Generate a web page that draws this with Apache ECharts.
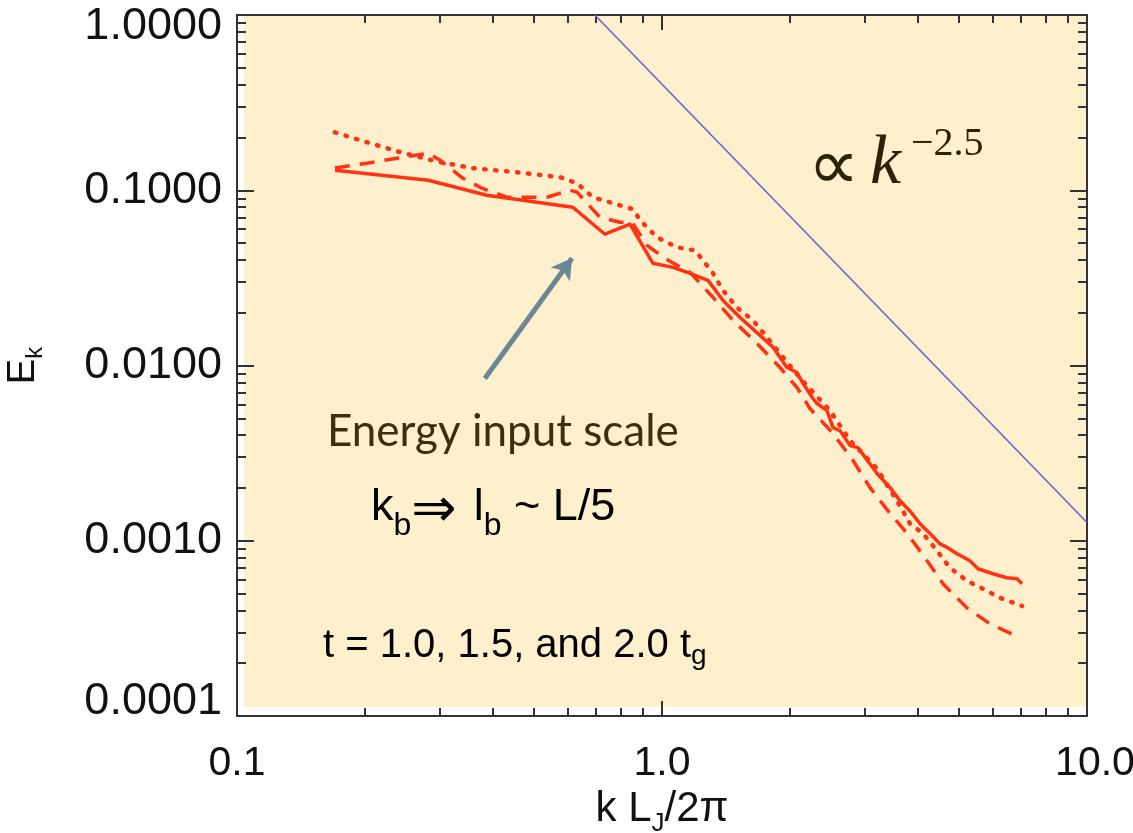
<!DOCTYPE html>
<html>
<head>
<meta charset="utf-8">
<script src="https://cdn.jsdelivr.net/npm/echarts@6/dist/echarts.min.js"></script>
<style>
  html, body { margin: 0; background: #fff; }
  #main { width: 1133px; height: 833px; }
</style>
</head>
<body>
<div id="main"></div>
<script>
// values: k L_J/2pi and E_k
const solidK = [0.170, 0.282, 0.387, 0.617, 0.734, 0.841, 0.952, 1.061, 1.164, 1.283, 1.392, 1.526, 1.673, 1.825, 1.968, 2.078, 2.147, 2.266, 2.316, 2.445, 2.526, 2.623, 2.770, 2.892, 3.206, 3.440, 3.631, 3.833, 4.047, 4.272, 4.510, 4.710, 4.945, 5.304, 5.539, 6.008, 6.482, 6.843, 7.031];
const solidE = [0.130, 0.114, 0.0936, 0.080, 0.0561, 0.064, 0.0383, 0.0363, 0.0336, 0.0306, 0.0235, 0.0188, 0.0154, 0.0127, 0.00974, 0.00912, 0.00789, 0.00648, 0.00607, 0.00553, 0.00442, 0.00425, 0.00349, 0.0034, 0.00242, 0.00201, 0.00169, 0.00148, 0.00125, 0.0011, 0.00096, 0.00091, 0.000843, 0.000769, 0.000692, 0.000648, 0.000615, 0.000607, 0.000568];

const dashK = [0.170, 0.202, 0.238, 0.282, 0.3005, 0.340, 0.377, 0.432, 0.536, 0.607, 0.631, 0.7145, 0.797, 0.850, 0.922, 1.016, 1.085, 1.164, 1.318, 1.469, 1.673, 1.895, 2.078, 2.229, 2.526, 2.815, 3.087, 3.403, 3.773, 4.157, 4.584, 5.218, 5.912, 6.956];
const dashE = [0.134, 0.1427, 0.1524, 0.1627, 0.1485, 0.117, 0.1027, 0.0912, 0.0912, 0.100, 0.0975, 0.0701, 0.0657, 0.0657, 0.0485, 0.0409, 0.0373, 0.034, 0.0245, 0.0181, 0.01336, 0.00974, 0.00749, 0.00568, 0.00409, 0.00287, 0.00201, 0.00148, 0.0011, 0.0008, 0.000568, 0.000414, 0.000336, 0.000279];

const dotK = [0.170, 0.202, 0.242, 0.3005, 0.359, 0.456, 0.575, 0.631, 0.688, 0.767, 0.855, 0.888, 0.973, 1.085, 1.196, 1.249, 1.318, 1.392, 1.502, 1.637, 1.767, 1.895, 2.12, 2.485, 2.770, 3.206, 3.631, 3.833, 4.113, 4.437, 4.760, 5.218, 5.692, 6.242, 7.031];
const dotE = [0.214, 0.188, 0.165, 0.1445, 0.1336, 0.1267, 0.1187, 0.1096, 0.0912, 0.0843, 0.0779, 0.0674, 0.0539, 0.0472, 0.0454, 0.0398, 0.0336, 0.0268, 0.0214, 0.0181, 0.0145, 0.0117, 0.0084, 0.00553, 0.00373, 0.00258, 0.00158, 0.00125, 0.0011, 0.000877, 0.000701, 0.000591, 0.000532, 0.000472, 0.000425];

// k^-2.5 guide line, end points
const slopeK = [0.695, 10];
const slopeE = [1.0, 0.00127];

// arrow "energy input scale": tail -> tip
const arrowK = [0.383, 0.614];
const arrowE = [0.00843, 0.0409];

const xMajor = [0.1, 1, 10];
const xMinor = [0.2, 0.3, 0.4, 0.5, 0.6, 0.7, 0.8, 0.9, 2, 3, 4, 5, 6, 7, 8, 9];
const yMajor = [0.0001, 0.001, 0.01, 0.1, 1];
const yMinor = [];
[0.0001, 0.001, 0.01, 0.1].forEach(d => { for (let m = 2; m <= 9; m++) yMinor.push(+(d * m).toPrecision(3)); });

const zip = (a, b) => a.map((v, i) => [v, b[i]]);

const RED = '#ff3314';
const AXC = '#333';
const FONT = '"Liberation Sans", Arial, sans-serif';

function xAxis(pos, ticks, len, labels) {
  return {
    type: 'log', logBase: 10, min: 0.1, max: 10, position: pos,
    axisLine: { show: true, onZero: false, lineStyle: { color: AXC, width: 2 } },
    axisTick: { show: true, inside: true, length: len, customValues: ticks, lineStyle: { color: AXC, width: 2 } },
    axisLabel: labels ? {
      customValues: ticks, margin: 27, fontSize: 41, fontFamily: FONT, color: '#111',
      formatter: v => v > 5 ? '{r|' + v.toFixed(1) + '}' : v.toFixed(1),
      rich: { r: { fontSize: 41, fontFamily: FONT, color: '#111', padding: [0, 0, 0, 16] } }
    } : { show: false },
    splitLine: { show: false },
    minorTick: { show: false }
  };
}
function yAxis(pos, ticks, len, labels) {
  return {
    type: 'log', logBase: 10, min: 0.0001, max: 1, position: pos,
    axisLine: { show: true, onZero: false, lineStyle: { color: AXC, width: 2 } },
    axisTick: { show: true, inside: true, length: len, customValues: ticks, lineStyle: { color: AXC, width: 2 } },
    axisLabel: labels ? {
      customValues: ticks, margin: 15, fontSize: 45, fontFamily: FONT, color: '#111',
      formatter: v => v < 0.00015 ? '{b|' + v.toFixed(4) + '}' : (v > 0.5 ? '{t|' + v.toFixed(4) + '}' : v.toFixed(4)),
      rich: {
        b: { fontSize: 45, fontFamily: FONT, color: '#111', padding: [0, 0, 28, 0] },
        t: { fontSize: 45, fontFamily: FONT, color: '#111', padding: [23, 0, 0, 0] }
      }
    } : { show: false },
    splitLine: { show: false },
    minorTick: { show: false }
  };
}

const xs = [xAxis('bottom', xMajor, 15, true), xAxis('top', xMajor, 15, false), xAxis('bottom', xMinor, 8, false), xAxis('top', xMinor, 8, false)];
xs[0].name = '{a|k L}{s|J}{a|/2π}';
xs[0].nameLocation = 'middle';
xs[0].nameGap = 66;
xs[0].nameTextStyle = {
  rich: {
    a: { fontSize: 42, fontFamily: FONT, color: '#111', lineHeight: 42, verticalAlign: 'top' },
    s: { fontSize: 26, fontFamily: FONT, color: '#111', lineHeight: 26, padding: [22, 0, 0, 0], verticalAlign: 'top' }
  }
};
const ys = [yAxis('left', yMajor, 17, true), yAxis('right', yMajor, 17, false), yAxis('left', yMinor, 9, false), yAxis('right', yMinor, 9, false)];
ys[0].name = '{a|E}{s|k}';
ys[0].nameLocation = 'middle';
ys[0].nameGap = 194;
ys[0].nameRotate = 90;
ys[0].nameTextStyle = {
  rich: {
    a: { fontSize: 38, fontFamily: FONT, color: '#111', lineHeight: 38, verticalAlign: 'top' },
    s: { fontSize: 24, fontFamily: FONT, color: '#111', lineHeight: 24, padding: [18, 0, 0, 0], verticalAlign: 'top' }
  }
};

const chart = echarts.init(document.getElementById('main'), null, { renderer: 'canvas' });

function subRich(main, sub, drop, arrowSize) {
  return {
    a: { fontSize: main, fontFamily: FONT, color: '#000', lineHeight: main, verticalAlign: 'top' },
    s: { fontSize: sub, fontFamily: FONT, color: '#000', lineHeight: sub, padding: [drop, 0, 0, 0], verticalAlign: 'top' },
    r: { fontSize: arrowSize || main, fontFamily: '"DejaVu Sans", sans-serif', color: '#000', lineHeight: main, verticalAlign: 'top' }
  };
}

chart.setOption({
  animation: false,
  backgroundColor: '#fff',
  grid: { left: 237, right: 46, top: 15, bottom: 117, containLabel: false, outerBoundsMode: 'none' },
  xAxis: xs,
  yAxis: ys,
  graphic: [
    { type: 'rect', z: -10, silent: true, shape: { x: 244, y: 15, width: 843, height: 692 }, style: { fill: '#fff0cd' } },
    { type: 'text', x: 808, y: 170, silent: true, style: { text: '∝', font: '72px "Liberation Serif", serif', fill: '#2b2208', textAlign: 'left', textVerticalAlign: 'middle' } },
    { type: 'text', x: 870, y: 165, silent: true, style: { text: 'k', font: 'italic 70px "Liberation Serif", serif', fill: '#2b2208', textAlign: 'left', textVerticalAlign: 'middle' } },
    { type: 'text', x: 911, y: 144, silent: true, style: { text: '−2.5', font: '40px "Liberation Serif", serif', fill: '#2b2208', textAlign: 'left', textVerticalAlign: 'middle' } },
    { type: 'text', x: 327, y: 432, silent: true, style: { text: 'Energy input scale', font: '44px Lato, "Open Sans", sans-serif', fill: '#3c2f0e', textAlign: 'left', textVerticalAlign: 'middle' } },
    { type: 'text', x: 371, y: 485, silent: true, style: { text: '{a|k}{s|b}{r|⇒ }{a|l}{s|b}{a| ~ L/5}', rich: subRich(45, 32, 25, 54), textAlign: 'left', textVerticalAlign: 'top' } },
    { type: 'text', x: 323, y: 626, silent: true, style: { text: '{a|t = 1.0, 1.5, and 2.0 t}{s|g}', rich: subRich(40, 28, 16), textAlign: 'left', textVerticalAlign: 'top' } }
  ],
  series: [
    {
      name: 'slope', type: 'line', data: zip(slopeK, slopeE), showSymbol: false, silent: true,
      lineStyle: { color: '#6a62d0', width: 1.6 }, z: 3
    },
    {
      name: 't=1.0', type: 'line', data: zip(solidK, solidE), showSymbol: false, silent: true,
      lineStyle: { color: RED, width: 3.5, join: 'round' }, z: 4,
      markLine: {
        silent: true, symbol: ['none', 'arrow'], symbolSize: [18, 20], animation: false,
        lineStyle: { color: '#6b8796', width: 5, type: 'solid' },
        label: { show: false },
        data: [[{ coord: [arrowK[0], arrowE[0]] }, { coord: [arrowK[1], arrowE[1]] }]]
      }
    },
    {
      name: 't=1.5', type: 'line', data: zip(dashK, dashE), showSymbol: false, silent: true,
      lineStyle: { color: RED, width: 3.5, type: [15, 10] }, z: 4
    },
    {
      name: 't=2.0', type: 'line', data: zip(dotK, dotE), showSymbol: false, silent: true,
      lineStyle: { color: RED, width: 4.5, type: [1.5, 9.5], cap: 'round' }, z: 4
    }
  ]
});
</script>
</body>
</html>
